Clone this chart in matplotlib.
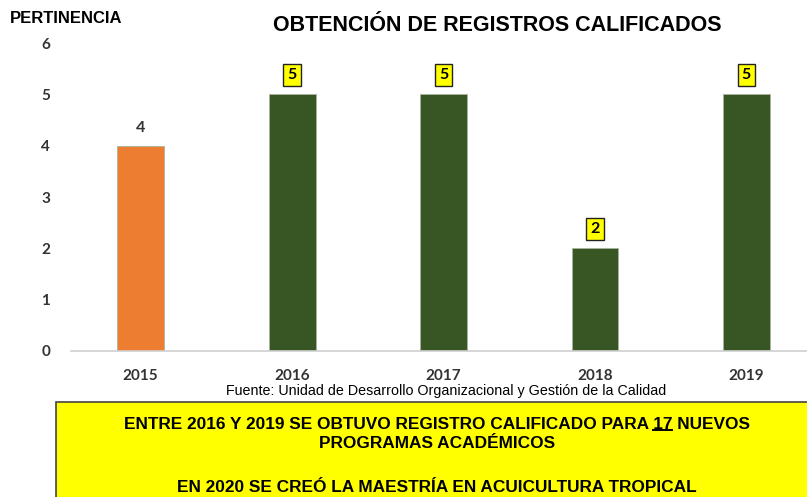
import matplotlib.pyplot as plt
from matplotlib.patches import Rectangle

# Datos
years = ['2015', '2016', '2017', '2018', '2019']
registros = [4, 5, 5, 2, 5]
bar_colors = ['#ED7D31', '#375623', '#375623', '#375623', '#375623']
boxed_label = [False, True, True, True, True]

NARROW = ['Liberation Sans Narrow', 'Liberation Sans', 'DejaVu Sans']
BOX_FS = 12.4

fig = plt.figure(figsize=(8.07, 4.97), dpi=100)
ax = fig.add_axes([0.088, 0.2938, 0.912, 0.6195])

x = range(len(years))
ax.bar(x, registros, width=0.31, color=bar_colors, edgecolor='#A9B49E', linewidth=0.6, zorder=2)

for i, v in enumerate(registros):
    if boxed_label[i]:
        ax.annotate(str(v), (i, v), xytext=(0, 9), textcoords='offset points',
                    ha='center', va='bottom', fontsize=11.5, fontweight='bold',
                    family=['Lato', 'DejaVu Sans'],
                    bbox=dict(boxstyle='square,pad=0.25', facecolor='#FFFF00',
                              edgecolor='#222222', linewidth=1.0))
    else:
        ax.annotate(str(v), (i, v), xytext=(0, 8), textcoords='offset points',
                    ha='center', va='bottom', fontsize=11.5, fontweight='bold',
                    family=['Lato', 'DejaVu Sans'], color='#333333')

ax.set_xlim(-0.46, 4.4)
ax.set_ylim(0, 6)
ax.set_xticks(list(x))
ax.set_xticklabels(years, fontsize=11, fontweight='bold', family=['Lato', 'DejaVu Sans'], color='#333333')
ax.set_yticks(range(0, 7))
ax.set_yticklabels([str(t) for t in range(0, 7)], fontsize=11, fontweight='bold',
                   family=['Lato', 'DejaVu Sans'], color='#333333')
ax.tick_params(axis='both', length=0)
ax.tick_params(axis='x', pad=13)
ax.tick_params(axis='y', pad=15)
for s in ['top', 'right', 'left']:
    ax.spines[s].set_visible(False)
ax.spines['bottom'].set_color('#D0D0D0')
ax.spines['bottom'].set_linewidth(1.2)

fig.text(0.616, 0.948, 'OBTENCIÓN DE REGISTROS CALIFICADOS', ha='center', va='center',
         fontsize=15.5, fontweight='bold', family=['Liberation Sans', 'DejaVu Sans'])
fig.text(0.012, 0.962, 'PERTINENCIA', ha='left', va='center',
         fontsize=12, fontweight='bold', family=['Liberation Sans', 'DejaVu Sans'])
fig.text(0.553, 0.213, 'Fuente: Unidad de Desarrollo Organizacional y Gestión de la Calidad',
         ha='center', va='center', fontsize=10.3, family=NARROW)

# Recuadro amarillo
fig.patches.append(Rectangle((0.069, -0.01), 0.95, 0.202, transform=fig.transFigure,
                             facecolor='#FFFF00', edgecolor='#444444', linewidth=1.2))

line1 = 'ENTRE 2016 Y 2019 SE OBTUVO REGISTRO CALIFICADO PARA 17 NUEVOS'
t1 = fig.text(0.541, 0.146, line1, ha='center', va='center', fontsize=BOX_FS,
              fontweight='bold', family=NARROW)
fig.text(0.541, 0.107, 'PROGRAMAS ACADÉMICOS', ha='center', va='center', fontsize=BOX_FS,
         fontweight='bold', family=NARROW)
fig.text(0.541, 0.02, 'EN 2020 SE CREÓ LA MAESTRÍA EN ACUICULTURA TROPICAL', ha='center',
         va='center', fontsize=BOX_FS, fontweight='bold', family=NARROW)

# subrayado del "17"
fig.canvas.draw()
r = fig.canvas.get_renderer()
bb = t1.get_window_extent(r)
pre = fig.text(0, 0, line1.split('17')[0], fontsize=BOX_FS, fontweight='bold', family=NARROW)
num = fig.text(0, 0, '17', fontsize=BOX_FS, fontweight='bold', family=NARROW)
w_pre = pre.get_window_extent(r).width
w_num = num.get_window_extent(r).width
pre.remove()
num.remove()
W, H = fig.bbox.width, fig.bbox.height
x0 = (bb.x0 + w_pre) / W
x1 = (bb.x0 + w_pre + w_num) / W
yu = (bb.y0 + 2) / H
fig.add_artist(plt.Line2D([x0, x1], [yu, yu], transform=fig.transFigure, color='black', linewidth=1.4))

fig.savefig('out.png', dpi=100)
